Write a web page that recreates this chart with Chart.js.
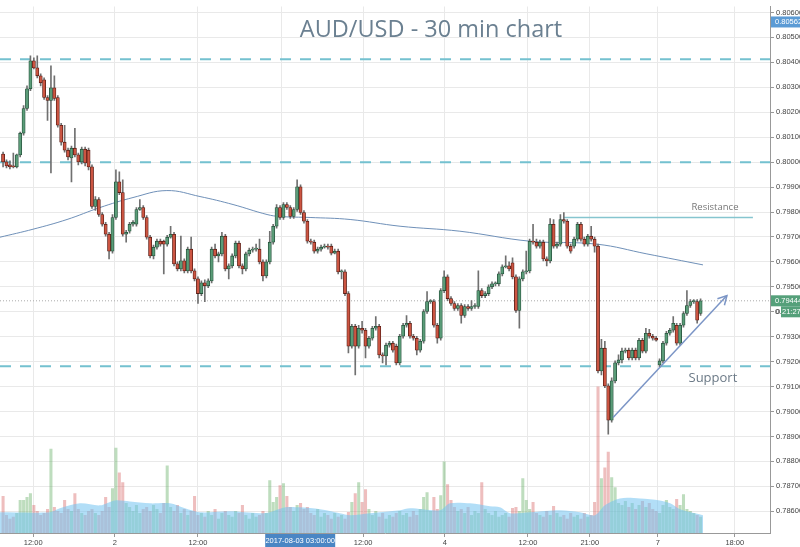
<!DOCTYPE html>
<html>
<head>
<meta charset="utf-8">
<script src="https://cdn.jsdelivr.net/npm/chart.js@4.4.0/dist/chart.umd.min.js"></script>
<style>
  html, body { margin: 0; padding: 0; background: #fff; }
  canvas { display: block; }
</style>
</head>
<body>
<canvas id="chart" width="800" height="547"></canvas>
<script>
// AUD/USD 30 min candles
const opens = [0.80032,0.80001,0.79989,0.79985,0.79981,0.80029,0.80116,0.80215,0.80294,0.80406,
0.80378,0.80346,0.80330,0.80259,0.80247,0.80298,0.80259,0.80148,0.80080,0.80048,
0.80017,0.80056,0.80029,0.80001,0.80052,0.80048,0.79981,0.79822,0.79850,0.79790,
0.79751,0.79711,0.79643,0.79778,0.79921,0.79878,0.79711,0.79723,0.79751,0.79751,
0.79810,0.79818,0.79778,0.79699,0.79624,0.79659,0.79683,0.79683,0.79671,0.79699,
0.79711,0.79592,0.79572,0.79604,0.79564,0.79651,0.79564,0.79532,0.79473,0.79516,
0.79504,0.79524,0.79651,0.79624,0.79632,0.79703,0.79572,0.79584,0.79624,0.79675,
0.79584,0.79572,0.79632,0.79647,0.79651,0.79651,0.79600,0.79544,0.79600,0.79679,
0.79743,0.79818,0.79778,0.79830,0.79818,0.79782,0.79810,0.79901,0.79798,0.79763,
0.79683,0.79679,0.79643,0.79651,0.79659,0.79663,0.79663,0.79635,0.79643,0.79560,
0.79560,0.79473,0.79262,0.79342,0.79262,0.79334,0.79326,0.79262,0.79294,0.79334,
0.79342,0.79227,0.79223,0.79266,0.79274,0.79262,0.79195,0.79302,0.79346,0.79354,
0.79302,0.79294,0.79246,0.79282,0.79401,0.79441,0.79441,0.79346,0.79294,0.79485,
0.79540,0.79453,0.79433,0.79413,0.79425,0.79385,0.79421,0.79413,0.79421,0.79421,
0.79485,0.79465,0.79473,0.79500,0.79512,0.79512,0.79552,0.79580,0.79584,0.79596,
0.79540,0.79405,0.79532,0.79560,0.79564,0.79683,0.79679,0.79663,0.79679,0.79612,
0.79604,0.79751,0.79663,0.79671,0.79770,0.79763,0.79663,0.79663,0.79691,0.79751,
0.79691,0.79671,0.79703,0.79691,0.79663,0.79163,0.79254,0.79103,0.78965,0.79123,
0.79195,0.79207,0.79242,0.79246,0.79215,0.79246,0.79215,0.79286,0.79242,0.79314,
0.79302,0.79294,0.79187,0.79203,0.79274,0.79314,0.79326,0.79346,0.79274,0.79346,
0.79393,0.79425,0.79441,0.79441,0.79393];
const highs = [0.80040,0.80009,0.80005,0.80036,0.80032,0.80120,0.80227,0.80306,0.80426,0.80418,
0.80426,0.80354,0.80338,0.80267,0.80386,0.80346,0.80267,0.80156,0.80148,0.80056,
0.80064,0.80136,0.80036,0.80060,0.80060,0.80056,0.79989,0.79862,0.79858,0.79798,
0.79759,0.79719,0.79790,0.79969,0.79961,0.79929,0.79727,0.79759,0.79766,0.79818,
0.79850,0.79826,0.79786,0.79707,0.79667,0.79691,0.79691,0.79687,0.79707,0.79743,
0.79719,0.79600,0.79703,0.79612,0.79659,0.79699,0.79572,0.79540,0.79524,0.79528,
0.79532,0.79659,0.79671,0.79639,0.79719,0.79711,0.79592,0.79632,0.79683,0.79683,
0.79592,0.79639,0.79655,0.79659,0.79671,0.79691,0.79608,0.79608,0.79723,0.79751,
0.79830,0.79826,0.79838,0.79838,0.79826,0.79818,0.79929,0.79909,0.79806,0.79770,
0.79691,0.79687,0.79659,0.79667,0.79671,0.79671,0.79671,0.79651,0.79651,0.79568,
0.79568,0.79481,0.79350,0.79350,0.79346,0.79362,0.79334,0.79302,0.79342,0.79381,
0.79350,0.79235,0.79274,0.79282,0.79282,0.79270,0.79310,0.79354,0.79385,0.79362,
0.79310,0.79302,0.79290,0.79409,0.79481,0.79449,0.79449,0.79354,0.79493,0.79564,
0.79548,0.79461,0.79441,0.79433,0.79433,0.79429,0.79429,0.79445,0.79433,0.79564,
0.79493,0.79481,0.79508,0.79520,0.79520,0.79560,0.79588,0.79624,0.79600,0.79616,
0.79548,0.79540,0.79568,0.79643,0.79691,0.79751,0.79691,0.79687,0.79687,0.79620,
0.79774,0.79770,0.79679,0.79790,0.79798,0.79770,0.79671,0.79699,0.79759,0.79759,
0.79699,0.79711,0.79743,0.79699,0.79671,0.79290,0.79282,0.79111,0.79135,0.79203,
0.79227,0.79254,0.79254,0.79254,0.79254,0.79254,0.79294,0.79294,0.79334,0.79330,
0.79310,0.79302,0.79211,0.79282,0.79322,0.79334,0.79381,0.79354,0.79354,0.79401,
0.79485,0.79449,0.79449,0.79449,0.79452];
const lows = [0.79981,0.79977,0.79973,0.79977,0.79977,0.80021,0.80108,0.80207,0.80287,0.80374,
0.80338,0.80306,0.80251,0.80167,0.79957,0.80247,0.80140,0.80068,0.80040,0.80009,
0.79921,0.80021,0.79989,0.79993,0.79985,0.79969,0.79814,0.79806,0.79782,0.79743,
0.79703,0.79612,0.79635,0.79770,0.79870,0.79703,0.79679,0.79715,0.79743,0.79743,
0.79806,0.79770,0.79691,0.79616,0.79612,0.79651,0.79663,0.79552,0.79663,0.79695,
0.79584,0.79564,0.79564,0.79556,0.79556,0.79556,0.79524,0.79433,0.79465,0.79441,
0.79497,0.79516,0.79616,0.79600,0.79624,0.79564,0.79532,0.79576,0.79616,0.79576,
0.79552,0.79564,0.79624,0.79639,0.79643,0.79592,0.79524,0.79536,0.79592,0.79671,
0.79735,0.79770,0.79770,0.79810,0.79774,0.79774,0.79802,0.79790,0.79755,0.79675,
0.79671,0.79635,0.79635,0.79643,0.79655,0.79651,0.79628,0.79632,0.79552,0.79532,
0.79465,0.79235,0.79254,0.79147,0.79254,0.79314,0.79215,0.79254,0.79286,0.79326,
0.79215,0.79195,0.79187,0.79258,0.79238,0.79187,0.79187,0.79294,0.79338,0.79294,
0.79286,0.79227,0.79238,0.79274,0.79393,0.79433,0.79338,0.79274,0.79286,0.79477,
0.79445,0.79425,0.79405,0.79405,0.79354,0.79377,0.79405,0.79405,0.79413,0.79413,
0.79457,0.79457,0.79465,0.79493,0.79504,0.79504,0.79544,0.79576,0.79564,0.79532,
0.79397,0.79334,0.79524,0.79552,0.79556,0.79671,0.79655,0.79655,0.79604,0.79584,
0.79596,0.79655,0.79655,0.79663,0.79755,0.79655,0.79635,0.79655,0.79683,0.79683,
0.79663,0.79663,0.79683,0.79639,0.79155,0.79147,0.79096,0.78909,0.78957,0.79115,
0.79187,0.79195,0.79235,0.79207,0.79207,0.79207,0.79207,0.79235,0.79235,0.79294,
0.79286,0.79282,0.79179,0.79195,0.79266,0.79306,0.79318,0.79266,0.79266,0.79338,
0.79385,0.79417,0.79433,0.79354,0.79385];
const closes = [0.80001,0.79985,0.79981,0.79981,0.80029,0.80116,0.80215,0.80294,0.80406,0.80378,
0.80346,0.80318,0.80259,0.80247,0.80298,0.80255,0.80148,0.80080,0.80048,0.80021,
0.80056,0.80029,0.80001,0.80052,0.79997,0.79981,0.79822,0.79850,0.79790,0.79751,
0.79711,0.79643,0.79778,0.79921,0.79878,0.79711,0.79719,0.79751,0.79759,0.79810,
0.79818,0.79778,0.79699,0.79624,0.79659,0.79683,0.79671,0.79671,0.79699,0.79711,
0.79592,0.79572,0.79604,0.79564,0.79651,0.79564,0.79532,0.79473,0.79516,0.79504,
0.79524,0.79651,0.79624,0.79632,0.79703,0.79572,0.79584,0.79624,0.79675,0.79584,
0.79572,0.79632,0.79647,0.79651,0.79655,0.79600,0.79544,0.79600,0.79679,0.79743,
0.79818,0.79778,0.79830,0.79818,0.79782,0.79810,0.79901,0.79798,0.79763,0.79683,
0.79679,0.79643,0.79651,0.79659,0.79663,0.79659,0.79635,0.79643,0.79560,0.79560,
0.79473,0.79262,0.79342,0.79262,0.79334,0.79326,0.79262,0.79294,0.79334,0.79342,
0.79227,0.79223,0.79266,0.79274,0.79246,0.79195,0.79302,0.79346,0.79354,0.79302,
0.79294,0.79246,0.79282,0.79401,0.79441,0.79441,0.79346,0.79294,0.79485,0.79540,
0.79453,0.79433,0.79413,0.79425,0.79385,0.79421,0.79413,0.79421,0.79421,0.79485,
0.79465,0.79473,0.79500,0.79512,0.79512,0.79552,0.79580,0.79584,0.79572,0.79540,
0.79405,0.79532,0.79560,0.79564,0.79683,0.79679,0.79663,0.79679,0.79612,0.79604,
0.79751,0.79663,0.79671,0.79770,0.79763,0.79663,0.79643,0.79691,0.79751,0.79691,
0.79671,0.79703,0.79691,0.79663,0.79163,0.79254,0.79103,0.78965,0.79123,0.79195,
0.79207,0.79242,0.79246,0.79215,0.79246,0.79215,0.79286,0.79242,0.79314,0.79302,
0.79294,0.79286,0.79203,0.79274,0.79314,0.79326,0.79354,0.79274,0.79346,0.79393,
0.79425,0.79441,0.79441,0.79366,0.79444];
// volume per candle (arbitrary units)
const volumes = [370,180,140,160,200,330,330,360,400,280, 220,180,200,240,850,260,220,200,330,240,
220,400,240,200,180,220,240,200,180,220, 360,260,450,860,610,510,300,260,220,280,
200,240,260,220,280,240,200,300,680,260, 220,280,200,240,180,220,370,180,200,160,
220,180,240,140,200,220,180,160,220,200, 280,180,140,200,160,180,220,200,530,310,
360,480,500,370,260,220,280,300,240,260, 200,180,240,160,200,180,140,200,160,180,
140,210,310,400,510,310,440,240,180,220, 160,200,140,180,160,200,220,180,200,160,
220,180,240,360,410,220,360,240,380,720, 490,330,260,220,240,200,260,180,220,200,
510,240,200,180,220,160,180,200,160,250, 260,220,550,330,240,310,200,180,160,220,
180,270,200,160,180,140,200,160,180,140, 200,160,180,310,1480,550,660,820,560,460,
300,280,320,260,300,240,280,320,260,300, 240,220,200,280,330,260,240,340,280,390,
240,220,200,180,160];

// volume moving average (area)
const volMaX = [-0.9,13.7,16.6,22.5,28.4,32.7,37.1,43,48.8,53.2,57.6,66.4,75.1,78.1,82.5,86.8,92.7,98.5,101.5,107.3,
  113.2,116.1,119,127.8,130.7,136.6,142.4,145.3,148.3,154.1,162.9,168.7,173.1,176,180.4,186.3,192.1,195.1,198,204.7];
const volMaValues = [210,210,250,300,280,330,320,300,300,250,210,220,200,210,260,260,240,200,180,200,
  220,230,250,230,300,300,270,260,200,210,230,210,180,280,350,350,330,300,240,180];

// price moving average
const maX = [-0.9,8.75,18.7,28.35,38,47.9,57.6,67.25,77.2,81,89.8,101.5,116.1,133.6,154.1,173.7,188.3,204.7];
const maValues = [0.79699,0.79731,0.79770,0.79818,0.79858,0.79886,0.79862,0.79830,0.79790,0.79782,0.79778,
  0.79770,0.79743,0.79723,0.79683,0.79671,0.79632,0.79588];

// drawn levels
const levels = [0.80413, 0.80000, 0.79182];
const resistance = 0.79778;
const resistanceX = [163.8, 219.3];
const arrowX = [178.4, 211.7];
const arrowY = [0.78976, 0.79465];
const lastPrice = 0.79444;
const crossPrice = 0.80562;
const crossX = 86.9;

const xTickPos = [8.8, 32.7, 57, 81.3, 105.3, 129.2, 153.5, 171.6, 191.5, 214];
const xTickLabels = ['12:00', '2', '12:00', '3', '12:00', '4', '12:00', '21:00', '7', '18:00'];
const yTicks = [0.786,0.787,0.788,0.789,0.790,0.791,0.792,0.793,0.794,0.795,0.796,
  0.797,0.798,0.799,0.800,0.801,0.802,0.803,0.804,0.805,0.806];

const X_MIN = -0.9, X_MAX = 224.3;
const idx = opens.map((_, i) => i);
const isUp = opens.map((o, i) => closes[i] >= o);
const pts = (xs, ys) => xs.map((x, i) => ({ x: x, y: ys[i] }));
const axisFont = { family: 'Liberation Sans', size: 7.5 };

const levelSets = levels.map(lv => ({
  type: 'line', data: [{ x: X_MIN, y: lv }, { x: X_MAX, y: lv }],
  borderColor: '#74c1d0', borderWidth: 2, borderDash: [11, 9],
  pointRadius: 0, order: 8
}));

// labels, arrow head and highlighted axis boxes
const overlay = {
  id: 'overlay',
  afterDraw(chart) {
    const ctx = chart.ctx;
    const xs = chart.scales.x, ys = chart.scales.y;
    ctx.save();
    ctx.textBaseline = 'middle';

    ctx.fillStyle = '#6b8091';
    ctx.font = '23.5px "Open Sans"';
    ctx.textAlign = 'center';
    ctx.fillText('AUD/USD - 30 min chart', 431, 30);

    ctx.fillStyle = '#777';
    ctx.font = '9.5px "Open Sans"';
    ctx.fillText('Resistance', xs.getPixelForValue(208.2), ys.getPixelForValue(0.79818));
    ctx.fillStyle = '#6b7986';
    ctx.font = '13px "Open Sans"';
    ctx.fillText('Support', xs.getPixelForValue(207.6), ys.getPixelForValue(0.79135));

    // arrow head
    const x0 = xs.getPixelForValue(arrowX[0]), y0 = ys.getPixelForValue(arrowY[0]);
    const x1 = xs.getPixelForValue(arrowX[1]), y1 = ys.getPixelForValue(arrowY[1]);
    const a = Math.atan2(y1 - y0, x1 - x0);
    ctx.strokeStyle = '#7b95c6';
    ctx.lineWidth = 1.5;
    ctx.beginPath();
    ctx.moveTo(x1 - 10 * Math.cos(a - 0.5), y1 - 10 * Math.sin(a - 0.5));
    ctx.lineTo(x1, y1);
    ctx.lineTo(x1 - 10 * Math.cos(a + 0.5), y1 - 10 * Math.sin(a + 0.5));
    ctx.stroke();

    // y axis boxes
    ctx.font = '7.5px "Liberation Sans"';
    ctx.textAlign = 'left';
    let py = ys.getPixelForValue(crossPrice);
    ctx.fillStyle = '#5b9bd5';
    ctx.fillRect(771, py - 5.5, 29, 11);
    ctx.fillStyle = '#fff';
    ctx.fillText(crossPrice.toFixed(5), 775, py);

    py = ys.getPixelForValue(lastPrice);
    ctx.fillStyle = '#55a07a';
    ctx.fillRect(771, py - 5.5, 29, 11);
    ctx.fillStyle = '#fff';
    ctx.fillText(lastPrice.toFixed(5), 775, py);
    ctx.fillStyle = '#555';
    ctx.fillText('0.', 775, py + 11);
    ctx.fillStyle = '#55a07a';
    ctx.fillRect(781, py + 5.5, 19, 11);
    ctx.fillStyle = '#fff';
    ctx.fillText('21:27', 782, py + 11);

    // x axis box
    const px = xs.getPixelForValue(crossX);
    ctx.fillStyle = '#4a86c4';
    ctx.fillRect(px - 35, 534, 70, 13);
    ctx.fillStyle = '#fff';
    ctx.textAlign = 'center';
    ctx.fillText('2017-08-03 03:00:00', px, 540.5);
    ctx.restore();
  }
};

new Chart(document.getElementById('chart'), {
  type: 'bar',
  data: {
    datasets: [
      {
        type: 'bar', data: idx.map(i => ({ x: i, y: volumes[i] })), yAxisID: 'yv',
        backgroundColor: isUp.map(u => u ? 'rgba(100,175,100,0.42)' : 'rgba(215,100,100,0.42)'),
        barThickness: 2.4, grouped: false, order: 10
      },
      {
        type: 'line', data: pts(volMaX, volMaValues), yAxisID: 'yv', fill: 'origin',
        backgroundColor: 'rgba(115,195,240,0.55)', borderWidth: 0, pointRadius: 0,
        tension: 0.3, order: 9
      },
      ...levelSets,
      {
        type: 'line', data: [{ x: X_MIN, y: lastPrice }, { x: X_MAX, y: lastPrice }],
        borderColor: '#aaaaaa', borderWidth: 1, borderDash: [1, 2], pointRadius: 0, order: 8
      },
      {
        type: 'line', data: pts(maX, maValues), borderColor: '#6f90b8', borderWidth: 1,
        pointRadius: 0, tension: 0.4, order: 7
      },
      {
        type: 'line', data: resistanceX.map(x => ({ x: x, y: resistance })),
        borderColor: '#86c5cf', borderWidth: 1.5, pointRadius: 0, order: 7
      },
      {
        type: 'bar', data: idx.map(i => ({ x: i, y: [lows[i], highs[i]] })),
        backgroundColor: '#707070', barThickness: 1, grouped: false, order: 3
      },
      {
        type: 'bar', data: idx.map(i => ({ x: i, y: [opens[i], closes[i]] })),
        backgroundColor: isUp.map(u => u ? '#5a9c78' : '#cc5542'),
        borderColor: isUp.map(u => u ? '#24503a' : '#5a1d15'),
        borderWidth: 0.8, borderSkipped: false, barThickness: 3.2, minBarLength: 1,
        grouped: false, order: 2
      },
      {
        type: 'line', data: pts(arrowX, arrowY), borderColor: '#7b95c6', borderWidth: 1.5,
        pointRadius: 0, order: 1
      }
    ]
  },
  options: {
    responsive: false,
    animation: false,
    devicePixelRatio: 1,
    layout: { padding: 0 },
    plugins: { legend: { display: false }, tooltip: { enabled: false } },
    scales: {
      x: {
        type: 'linear', min: X_MIN, max: X_MAX, offset: false,
        afterBuildTicks: s => { s.ticks = xTickPos.map(v => ({ value: v })); },
        afterFit: s => { s.height = 14; },
        ticks: {
          autoSkip: false, maxRotation: 0, padding: 1, color: '#444', font: axisFont,
          callback: (v, i) => xTickLabels[i]
        },
        grid: { offset: false, color: '#e9e9e9', tickLength: 4, tickColor: '#999' },
        border: { color: '#999' }
      },
      y: {
        position: 'right', min: 0.78513, max: 0.80624,
        afterBuildTicks: s => { s.ticks = yTicks.map(v => ({ value: v })); },
        afterFit: s => { s.width = 30; },
        ticks: {
          autoSkip: false, padding: 2, color: '#444', font: axisFont,
          callback: v => v.toFixed(5)
        },
        grid: { color: '#e9e9e9', tickLength: 4, tickColor: '#999' },
        border: { color: '#999' }
      },
      yv: { display: false, min: 0, max: 5330 }
    }
  },
  plugins: [overlay]
});
</script>
</body>
</html>
